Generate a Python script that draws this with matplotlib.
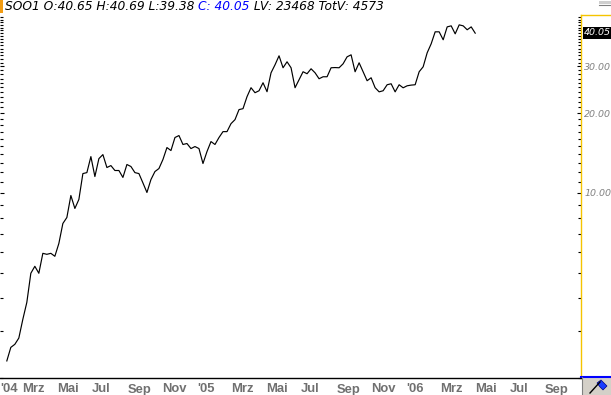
# plot.py
# Weekly close chart for SOO1, log price scale, chart-terminal look

import pandas as pd
import matplotlib
matplotlib.use('Agg')
import matplotlib.pyplot as plt
import matplotlib.dates as mdates
import matplotlib.transforms as mtransforms
from matplotlib.patches import Rectangle, Polygon
from matplotlib.lines import Line2D

# ── DATA ────────────────────────────────────────────────────
start_date = '2004-02-03'   # first weekly close
closes = [
    2.32, 2.61, 2.68, 2.83, 3.33, 3.86, 4.97, 5.28, 4.97, 5.91,
    5.86, 5.91, 5.76, 6.44, 7.66, 8.07, 9.77, 8.73, 9.44, 11.82,
    11.92, 13.70, 11.52, 13.46, 13.94, 12.46, 12.67, 12.14, 12.14, 11.43,
    12.79, 12.57, 11.92, 11.82, 10.90, 10.03, 11.22, 12.03, 12.35, 13.36,
    14.82, 14.44, 16.17, 16.45, 15.22, 15.35, 14.69, 14.95, 14.69, 12.90,
    14.31, 15.61, 15.22, 16.17, 17.02, 17.02, 18.24, 18.89, 20.61, 20.78,
    23.06, 24.93, 23.87, 24.28, 26.03, 24.08, 28.38, 30.43, 32.90, 29.65,
    31.23, 29.65, 24.93, 26.72, 28.64, 28.15, 29.39, 28.38, 26.95, 27.42,
    27.42, 29.65, 29.70, 29.65, 30.69, 32.61, 33.18, 28.64, 30.96, 28.64,
    26.49, 27.18, 24.93, 24.05, 24.28, 25.58, 25.80, 24.05, 25.58, 24.91,
    25.35, 25.50, 25.58, 28.64, 29.90, 33.76, 36.51, 40.52, 40.52, 37.81,
    42.30, 42.68, 39.82, 43.05, 42.68, 41.25, 42.30, 40.05,
]

month_ticks = ['2004-01-01', '2004-03-01', '2004-05-01', '2004-07-01',
               '2004-09-01', '2004-11-01', '2005-01-01', '2005-03-01',
               '2005-05-01', '2005-07-01', '2005-09-01', '2005-11-01',
               '2006-01-01', '2006-03-01', '2006-05-01', '2006-07-01',
               '2006-09-01']
month_labels = ["'04", 'Mrz', 'Mai', 'Jul', 'Sep', 'Nov',
                "'05", 'Mrz', 'Mai', 'Jul', 'Sep', 'Nov',
                "'06", 'Mrz', 'Mai', 'Jul', 'Sep']

price_ticks = [10, 20, 30]
last_close = 40.05
header_parts = [('SOO1 O:40.65 H:40.69 L:39.38 ', 'black'),
                ('C: 40.05', '#0000ff'),
                (' LV: 23468 TotV: 4573', 'black')]

dates = pd.date_range(start_date, periods=len(closes), freq='7D')

# ── FIGURE / PIXEL HELPERS ──────────────────────────────────
W, H = 611, 395
fig = plt.figure(figsize=(W / 100, H / 100), dpi=100)
fig.patch.set_facecolor('white')

def fx(px):
    return px / W

def fy(py):
    return 1 - py / H

GOLD = '#f5c400'
FONT = 'Liberation Sans'
plot_right, plot_top, plot_bottom = 581, 15, 378
ax = fig.add_axes([0, fy(plot_bottom), fx(plot_right),
                   (plot_bottom - plot_top) / H])

# ── PRICE LINE ──────────────────────────────────────────────
ax.plot(dates, closes, color='black', lw=0.85)

ax.set_yscale('log')
ax.set_ylim(2.015, 46.9)

# about 0.572 px per day; Mar 1 2005 sits at x=231
px_per_day = 0.5719
x_left = pd.Timestamp('2005-03-01') - pd.Timedelta(days=231 / px_per_day)
x_right = x_left + pd.Timedelta(days=plot_right / px_per_day)
ax.set_xlim(x_left, x_right)

# ── AXES STYLE ──────────────────────────────────────────────
for side in ['top', 'left']:
    ax.spines[side].set_visible(False)
ax.spines['right'].set_color(GOLD)
ax.spines['right'].set_linewidth(1.0)
ax.spines['bottom'].set_color('black')
ax.spines['bottom'].set_linewidth(1.0)

ax.set_xticks([])
ax.set_yticks(price_ticks)
ax.set_yticklabels([f'{v:.2f}' for v in price_ticks])
ax.set_yticks([v for v in range(2, 47) if v not in price_ticks], minor=True)
ax.yaxis.set_minor_formatter(matplotlib.ticker.NullFormatter())
ax.tick_params(axis='y', which='both', direction='in', left=True,
               right=True, labelleft=False, labelright=True,
               color='black', width=0.8)
ax.tick_params(axis='y', which='major', length=3.2, pad=2.3,
               labelsize=6.8, labelcolor='#808080')
ax.tick_params(axis='y', which='minor', length=2)
for t in ax.get_yticklabels():
    t.set_fontstyle('italic')
    t.set_family('DejaVu Sans')

# last price box on the scale
fig.patches.append(Rectangle((fx(582.5), fy(38.5)), fx(611) - fx(582.5),
                             fy(27) - fy(38.5), transform=fig.transFigure,
                             facecolor='black', edgecolor='none'))
fig.text(fx(583.5), fy(32.8), f'{last_close:.2f}', color='white',
         fontsize=6.8, fontstyle='italic', family='DejaVu Sans',
         ha='left', va='center')

# ── MONTH LABELS ────────────────────────────────────────────
trans = mtransforms.blended_transform_factory(ax.transData, fig.transFigure)
for d, lab in zip(month_ticks, month_labels):
    xd = mdates.date2num(max(pd.Timestamp(d), x_left))
    ax.text(xd, fy(392.5), lab, transform=trans, ha='left',
            va='baseline', fontsize=9.4, fontweight='bold',
            family=FONT, color='#707070', clip_on=False)

# ── HEADER ──────────────────────────────────────────────────
fig.patches.append(Rectangle((0, fy(13)), fx(3), fy(0) - fy(13),
                             transform=fig.transFigure,
                             facecolor='#f39c12', edgecolor='none'))
renderer = fig.canvas.get_renderer()
x_cur = fx(5)
for txt, col in header_parts:
    t = fig.text(x_cur, fy(10.5), txt, color=col, fontsize=8.8,
                 fontstyle='italic', family='DejaVu Sans', va='baseline')
    x_cur = t.get_window_extent(renderer).x1 / W

# ── RIGHT PANEL DECORATION ──────────────────────────────────
fig.lines.append(Line2D([fx(581), fx(611)], [fy(15), fy(15)],
                        transform=fig.transFigure, color=GOLD, lw=1.0))
fig.patches.append(Rectangle((fx(599), fy(4)), fx(611) - fx(599),
                             fy(1.5) - fy(4), transform=fig.transFigure,
                             facecolor='#cfcfcf', edgecolor='none'))
fig.lines.append(Line2D([fx(599), fx(611)], [fy(4.5), fy(4.5)],
                        transform=fig.transFigure, color='#808080', lw=0.8))

# button in the bottom right corner
fig.patches.append(Rectangle((fx(581.5), 0), fx(611) - fx(581.5),
                             fy(377), transform=fig.transFigure,
                             facecolor='#d4d0c8', edgecolor='none'))
fig.lines.append(Line2D([fx(581), fx(611)], [fy(376.8), fy(376.8)],
                        transform=fig.transFigure, color='#0000ff', lw=1.5))
fig.lines.append(Line2D([fx(581.5), fx(581.5)], [0, fy(377)],
                        transform=fig.transFigure, color='#808080', lw=0.8))
fig.lines.append(Line2D([fx(590), fx(600)], [fy(393), fy(382)],
                        transform=fig.transFigure, color='black', lw=1.0))
flag = [(597, 383), (601, 380), (607, 386), (603, 390), (600, 387)]
fig.patches.append(Polygon([(fx(a), fy(b)) for a, b in flag],
                           closed=True, transform=fig.transFigure,
                           facecolor='#1a3cff', edgecolor='#000080', lw=0.5))

plt.savefig('out.png', dpi=100)
